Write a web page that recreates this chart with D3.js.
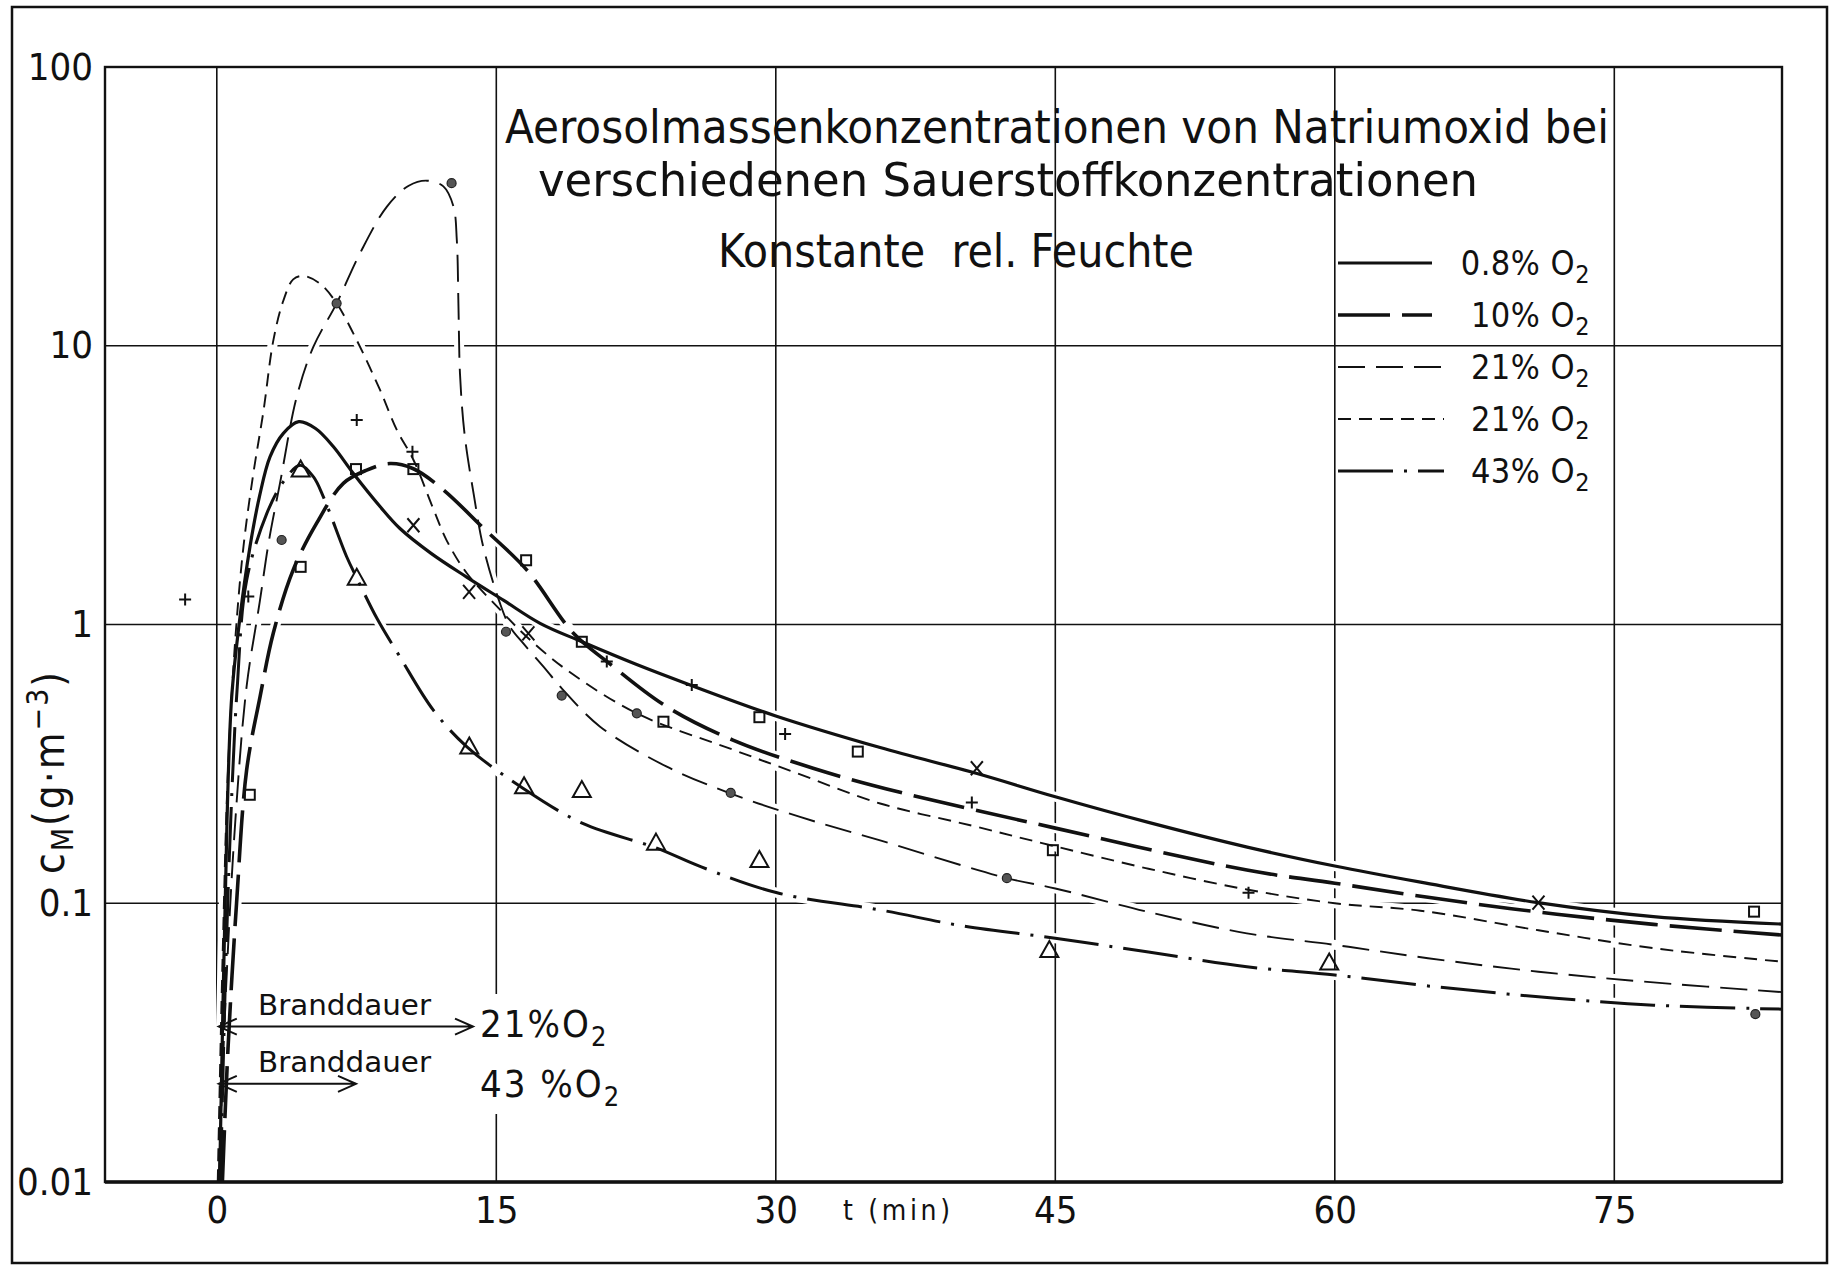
<!doctype html>
<html lang="de">

<head>
  <meta charset="utf-8">
  <title>Aerosolmassenkonzentrationen von Natriumoxid</title>
  <style>
    body {
      margin: 0;
      background: #fff;
    }

    svg {
      display: block;
    }

    text {
      font-family: 'Liberation Sans Narrow', 'DejaVu Sans Condensed', 'DejaVu Sans', sans-serif;
      fill: #111;
    }

    .grid line {
      stroke: #111;
      stroke-width: 1.6;
    }

    .curve {
      fill: none;
      stroke: #111;
      stroke-linecap: butt;
    }

    .halo {
      fill: none;
      stroke: #fff;
      stroke-width: 10;
    }

    .axis .tick text {
      font-size: 38px;
    }

    .marker {
      fill: none;
      stroke: #111;
      stroke-width: 2;
    }
  </style>
</head>

<body>
  <div id="chart"></div>

  <script src="https://d3js.org/d3.v7.min.js"></script>
  <script>
// axis ticks
const xTicks = [0, 15, 30, 45, 60, 75];
const yTicks = [0.01, 0.1, 1, 10, 100];
const yTickLabels = ['0.01', '0.1', '1', '10', '100'];
const yGrid = [0.1, 1, 10];

// legend labels (oxygen concentration)
const seriesNames = ['0.8%', '10%', '21%', '21%', '43%'];

// curves: [t (min), c (g/m3)]
const curve08 = [[0.15, 0.01], [0.35, 0.05], [0.55, 0.2], [0.8, 0.55], [1.25, 1.07], [1.78, 1.9], [2.3, 2.9],
  [2.86, 4.0], [3.57, 4.85], [4.4, 5.34], [5.3, 5.05], [6.25, 4.35], [7.33, 3.48], [8.76, 2.65], [9.83, 2.21],
  [11.5, 1.8], [13.41, 1.48], [15.4, 1.22], [17.35, 1.01], [19.6, 0.867], [22.5, 0.72], [25.4, 0.607],
  [30, 0.47], [35.6, 0.362], [40.8, 0.292], [45, 0.241], [50, 0.195], [55.3, 0.159], [60, 0.136],
  [64.6, 0.119], [70.9, 0.1005], [77.1, 0.0895], [84, 0.0842]];

const curve10 = [[0.3, 0.01], [0.6, 0.03], [1.06, 0.1], [1.6, 0.3], [2.32, 0.55], [3.03, 0.93], [4.1, 1.57],
  [5.36, 2.31], [6.79, 3.21], [8.05, 3.58], [9.3, 3.78], [10.55, 3.62], [12.16, 3.04], [14.3, 2.22],
  [16.63, 1.57], [19.14, 0.93], [20.93, 0.737], [24.15, 0.507], [27.7, 0.385], [32, 0.305], [36.67, 0.25],
  [45, 0.186], [55.28, 0.1315], [60, 0.118], [65, 0.105], [70.93, 0.093], [77.1, 0.084], [84, 0.0769]];

const curve21a = [[0.1, 0.01], [0.5, 0.05], [1.0, 0.2], [1.6, 0.6], [2.3, 1.2], [2.8, 2.0], [3.39, 3.21],
  [4.29, 6.56], [5.18, 9.9], [6.43, 14.2], [7.69, 21.5], [9.12, 31.5], [10.3, 37.5], [11.27, 39.1],
  [12.16, 37.3], [12.7, 31.6], [12.88, 24], [12.97, 13.8], [13.05, 7.96], [13.3, 4.8], [13.8, 2.9],
  [14.3, 1.9], [15.2, 1.19], [15.74, 0.98], [16.45, 0.855], [17.53, 0.706], [18.51, 0.59], [20.57, 0.43],
  [24.15, 0.309], [27.55, 0.248], [31.3, 0.204], [35.6, 0.168], [42.4, 0.123], [45, 0.113], [50, 0.093],
  [55.28, 0.078], [60, 0.0709], [65, 0.0635], [70.93, 0.0568], [77.1, 0.052], [84, 0.048]];

const curve21b = [[0.05, 0.01], [0.3, 0.06], [0.6, 0.3], [1.0, 0.9], [1.43, 1.9], [1.96, 3.48], [2.5, 5.8],
  [3.04, 10.5], [3.57, 14.5], [4.1, 17.3], [4.65, 17.8], [5.54, 16.7], [6.43, 14.2], [7.5, 10.5],
  [8.76, 6.94], [9.66, 4.99], [10.55, 3.9], [11.62, 2.6], [12.34, 2.0], [13.41, 1.53], [15.2, 1.13],
  [16.63, 0.904], [18.78, 0.687], [22.54, 0.48], [27.73, 0.355], [31, 0.295], [35.6, 0.228], [40.5, 0.19],
  [45, 0.16], [50, 0.133], [55.28, 0.112], [60, 0.1], [64.6, 0.094], [70.93, 0.08], [77.1, 0.069],
  [84, 0.0617]];

const curve43 = [[0.2, 0.01], [0.45, 0.05], [0.75, 0.2], [1.1, 0.6], [1.6, 1.44], [2.68, 2.5], [3.57, 3.25],
  [4.47, 3.73], [5.18, 3.39], [5.72, 2.87], [6.97, 1.75], [7.51, 1.47], [8.6, 1.05], [9.83, 0.765],
  [11.62, 0.493], [13.41, 0.365], [16.45, 0.258], [19.67, 0.193], [23.57, 0.158], [26, 0.135],
  [30.07, 0.109], [35.6, 0.0946], [40, 0.083], [45, 0.0749], [50, 0.0668], [55.28, 0.0592], [60, 0.0553],
  [65, 0.0505], [70.93, 0.0462], [77.1, 0.0431], [84, 0.0417]];

// measured points
const plusPoints = [[-1.7, 1.23], [1.69, 1.26], [7.51, 5.42], [10.5, 4.17], [20.93, 0.737], [25.49, 0.607],
  [30.5, 0.405], [40.52, 0.23], [55.37, 0.109]];
const squarePoints = [[1.77, 0.245], [4.5, 1.61], [7.47, 3.61], [10.55, 3.61], [16.6, 1.7], [19.59, 0.867],
  [23.97, 0.448], [29.12, 0.465], [34.4, 0.35], [44.87, 0.155], [82.5, 0.0933]];
const crossPoints = [[10.55, 2.27], [13.54, 1.31], [16.72, 0.93], [40.79, 0.305], [70.93, 0.1005]];
const dotPoints = [[3.48, 2.01], [6.43, 14.2], [12.6, 38.3], [15.52, 0.942], [18.51, 0.556], [22.54, 0.48],
  [27.58, 0.249], [42.4, 0.123], [82.57, 0.04]];
const trianglePoints = [[4.5, 3.6], [7.51, 1.47], [13.55, 0.365], [16.49, 0.263], [19.59, 0.255],
  [23.57, 0.165], [29.12, 0.143], [44.68, 0.068], [59.7, 0.0613]];

// burn duration arrows: [end time, level]
const burnArrows = [[13.75, 0.0361], [7.47, 0.0225]];
const burnLabels = ['21%', '43 %'];

const width = 1835;
const height = 1268;
const plot = { left: 105, right: 1782, top: 67, bottom: 1182 };

const svg = d3.select('#chart')
  .append('svg')
  .attr('width', width)
  .attr('height', height);

// outer frame of the figure
svg.append('rect')
  .attr('x', 12).attr('y', 7)
  .attr('width', 1815).attr('height', 1256)
  .attr('fill', 'none')
  .attr('stroke', '#111')
  .attr('stroke-width', 2.5);

const x = d3.scaleLinear().domain([-6, 84]).range([plot.left, plot.right]);
const y = d3.scaleLog().domain([0.01, 100]).range([plot.bottom, plot.top]);

// grid
const grid = svg.append('g').attr('class', 'grid');

grid.selectAll('line.v')
  .data(xTicks)
  .join('line')
  .attr('class', 'v')
  .attr('x1', d => x(d)).attr('x2', d => x(d))
  .attr('y1', plot.top).attr('y2', plot.bottom);

grid.selectAll('line.h')
  .data(yGrid)
  .join('line')
  .attr('class', 'h')
  .attr('x1', plot.left).attr('x2', plot.right)
  .attr('y1', d => y(d)).attr('y2', d => y(d));

// curves
svg.append('clipPath').attr('id', 'plot-clip')
  .append('rect')
  .attr('x', plot.left).attr('y', plot.top)
  .attr('width', plot.right - plot.left).attr('height', plot.bottom - plot.top);

const line = d3.line()
  .x(d => x(d[0]))
  .y(d => y(d[1]))
  .curve(d3.curveCatmullRom.alpha(0.5));

const series = [
  { name: seriesNames[0], values: curve08, dash: null, w: 3.2 },
  { name: seriesNames[1], values: curve10, dash: '52 12', w: 3.6 },
  { name: seriesNames[2], values: curve21a, dash: '27 11', w: 1.9 },
  { name: seriesNames[3], values: curve21b, dash: '13 8', w: 1.9 },
  { name: seriesNames[4], values: curve43, dash: '55 11 3 11', w: 3.0 }
];

const curves = svg.append('g').attr('clip-path', 'url(#plot-clip)');

// white halos break the grid where the curves cross it, as in the drawing
curves.selectAll('path.halo')
  .data(series)
  .join('path')
  .attr('class', 'halo')
  .attr('d', d => line(d.values));

curves.selectAll('path.curve')
  .data(series)
  .join('path')
  .attr('class', 'curve')
  .attr('d', d => line(d.values))
  .attr('stroke-width', d => d.w)
  .attr('stroke-dasharray', d => d.dash);

// plot frame
svg.append('rect')
  .attr('x', plot.left).attr('y', plot.top)
  .attr('width', plot.right - plot.left).attr('height', plot.bottom - plot.top)
  .attr('fill', 'none')
  .attr('stroke', '#111')
  .attr('stroke-width', 2.4);

svg.append('line')
  .attr('x1', plot.left).attr('x2', plot.right)
  .attr('y1', plot.bottom).attr('y2', plot.bottom)
  .attr('stroke', '#111')
  .attr('stroke-width', 3.5);

// axes (labels only)
svg.append('g')
  .attr('class', 'axis')
  .attr('transform', `translate(0,${plot.bottom})`)
  .call(d3.axisBottom(x).tickValues(xTicks).tickSize(0).tickPadding(14).tickFormat(d3.format('d')))
  .call(g => g.select('.domain').remove());

svg.append('g')
  .attr('class', 'axis')
  .attr('transform', `translate(${plot.left},0)`)
  .call(d3.axisLeft(y).tickValues(yTicks).tickSize(0).tickPadding(12).tickFormat((d, i) => yTickLabels[i]))
  .call(g => g.select('.domain').remove());

svg.append('text')
  .attr('x', 843).attr('y', 1220)
  .attr('font-size', 28)
  .attr('textLength', 107)
  .attr('lengthAdjust', 'spacing')
  .text('t (min)');

// y axis title
const yTitle = svg.append('text')
  .attr('transform', 'translate(64,772) rotate(-90)')
  .attr('text-anchor', 'middle')
  .attr('font-size', 42)
  .attr('letter-spacing', 2);
yTitle.append('tspan').text('c');
yTitle.append('tspan').attr('font-size', 30).attr('dy', 9).text('M');
yTitle.append('tspan').attr('dy', -9).text('(g·m');
yTitle.append('tspan').attr('font-size', 30).attr('dy', -16).text('−3');
yTitle.append('tspan').attr('dy', 16).text(')');

// title
const titleLines = [
  { text: 'Aerosolmassenkonzentrationen von Natriumoxid bei', x: 505, y: 143, len: 1104 },
  { text: 'verschiedenen Sauerstoffkonzentrationen', x: 538, y: 196, len: 940 },
  { text: 'Konstante  rel. Feuchte', x: 718, y: 267, len: 476 }
];

svg.append('g')
  .selectAll('text')
  .data(titleLines)
  .join('text')
  .attr('x', d => d.x)
  .attr('y', d => d.y)
  .attr('font-size', 47)
  .attr('textLength', d => d.len)
  .attr('lengthAdjust', 'spacingAndGlyphs')
  .style('white-space', 'pre')
  .text(d => d.text);

// markers
const marks = svg.append('g');

marks.selectAll('path.plus')
  .data(plusPoints)
  .join('path')
  .attr('class', 'marker')
  .attr('transform', d => `translate(${x(d[0])},${y(d[1])})`)
  .attr('d', 'M-6,0H6M0,-6V6');

marks.selectAll('path.cross')
  .data(crossPoints)
  .join('path')
  .attr('class', 'marker')
  .attr('transform', d => `translate(${x(d[0])},${y(d[1])})`)
  .attr('d', 'M-6,-7L6,7M6,-7L-6,7');

marks.selectAll('rect.square')
  .data(squarePoints)
  .join('rect')
  .attr('class', 'marker')
  .attr('x', d => x(d[0]) - 5)
  .attr('y', d => y(d[1]) - 5)
  .attr('width', 10).attr('height', 10)
  .attr('fill', '#fff');

marks.selectAll('path.tri')
  .data(trianglePoints)
  .join('path')
  .attr('class', 'marker')
  .attr('stroke-width', 2.6)
  .attr('fill', '#fff')
  .attr('transform', d => `translate(${x(d[0])},${y(d[1])})`)
  .attr('d', 'M0,-9L9,7H-9Z');

marks.selectAll('circle')
  .data(dotPoints)
  .join('circle')
  .attr('cx', d => x(d[0]))
  .attr('cy', d => y(d[1]))
  .attr('r', 4.5)
  .attr('fill', '#555')
  .attr('stroke', '#222')
  .attr('stroke-width', 1.2);

// legend
const legend = svg.append('g')
  .selectAll('g')
  .data(series)
  .join('g')
  .attr('transform', (d, i) => `translate(0,${263 + i * 52})`);

legend.append('line')
  .attr('class', 'curve')
  .attr('x1', 1338)
  .attr('x2', (d, i) => i < 2 ? 1432 : 1444)
  .attr('stroke-width', d => d.w)
  .attr('stroke-dasharray', d => d.dash);

const legendText = legend.append('text')
  .attr('x', 1590)
  .attr('y', 12)
  .attr('text-anchor', 'end')
  .attr('font-size', 34)
  .attr('letter-spacing', 0.5);
legendText.append('tspan').text(d => d.name + ' O');
legendText.append('tspan').attr('font-size', 25).attr('dy', 8).text('2');

// burn duration arrows
const arrows = svg.append('g')
  .selectAll('g')
  .data(burnArrows)
  .join('g');

arrows.append('path')
  .attr('fill', 'none')
  .attr('stroke', '#111')
  .attr('stroke-width', 2)
  .attr('d', d => {
    const x0 = x(0) + 2, x1 = x(d[0]), yy = y(d[1]);
    return `M${x0},${yy}H${x1}` +
      `M${x0 + 18},${yy - 8}L${x0},${yy}L${x0 + 18},${yy + 8}` +
      `M${x1 - 18},${yy - 8}L${x1},${yy}L${x1 - 18},${yy + 8}`;
  });

arrows.append('text')
  .attr('x', 258)
  .attr('y', d => y(d[1]) - 12)
  .attr('font-size', 29)
  .attr('textLength', 173)
  .attr('lengthAdjust', 'spacingAndGlyphs')
  .text('Branddauer');

// knock the grid out behind the oxygen labels
svg.append('rect')
  .attr('x', 480).attr('y', 994)
  .attr('width', 130).attr('height', 120)
  .attr('fill', '#fff');

const burnText = svg.append('g')
  .selectAll('text')
  .data(burnLabels)
  .join('text')
  .attr('x', 480)
  .attr('y', (d, i) => 1037 + i * 60)
  .attr('font-size', 38)
  .attr('letter-spacing', 2);
burnText.append('tspan').text(d => d + 'O');
burnText.append('tspan').attr('font-size', 27).attr('dy', 9).text('2');
  </script>
</body>

</html>
